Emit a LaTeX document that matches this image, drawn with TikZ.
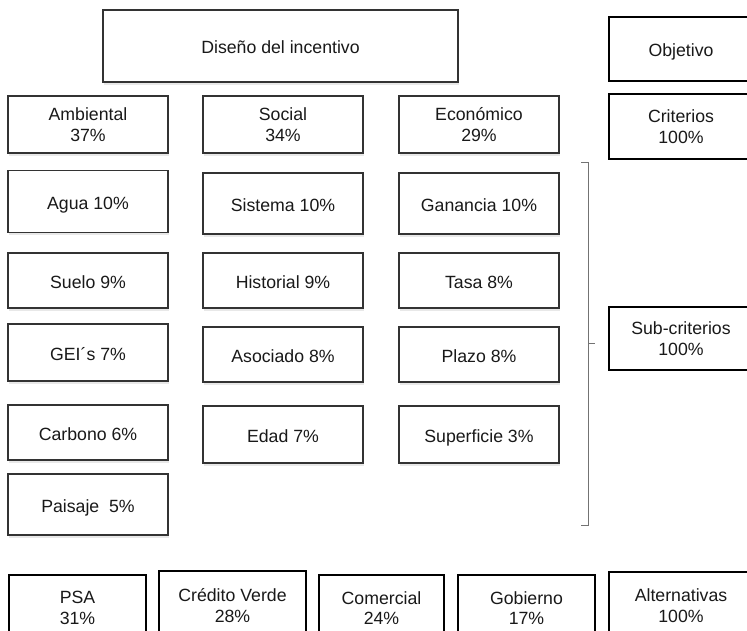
\documentclass[tikz,border=0pt]{standalone}
\usepackage{fontspec}
\setmainfont{Liberation Sans}
\usetikzlibrary{shadows}

\begin{document}
\begin{tikzpicture}[x=1pt, y=-1pt,
	every node/.style={font=\fontsize{17.7}{20.5}\selectfont, text=black!90, align=center, inner sep=0pt},
	cell/.style={draw=black!80, line width=1.1pt, fill=white, minimum width=160pt,
		drop shadow={shadow xshift=1pt, shadow yshift=-3pt, opacity=0.18}},
	oneline/.style={text height=16pt, text depth=0pt},
	level/.style={draw=black, line width=2.2pt, fill=white, minimum width=144pt},
	alt/.style={draw=black, line width=2.2pt, fill=white, minimum height=66pt}]
	\useasboundingbox (0,0) rectangle (747,631);
	\clip (0,0) rectangle (747,631);
	% objetivo
	\node[cell, oneline, minimum width=355pt, minimum height=72pt] (diseno) at (280.5,46) {Diseño del incentivo};
	% criterios
	\node[cell, minimum height=57pt] (ambiental) at (88,124.5) {Ambiental\\37\%};
	\node[cell, minimum height=57pt] (social) at (283,124.5) {Social\\34\%};
	\node[cell, minimum height=57pt] (economico) at (479,124.5) {Económico\\29\%};
	% sub-criterios ambientales
	\node[cell, oneline, minimum height=62pt] (agua) at (88,201.5) {Agua 10\%};
	\node[cell, oneline, minimum height=55pt] (suelo) at (88,280.5) {Suelo 9\%};
	\node[cell, oneline, minimum height=57pt] (gei) at (88,352.5) {GEI´s 7\%};
	\node[cell, oneline, minimum height=55pt] (carbono) at (88,432.5) {Carbono 6\%};
	\node[cell, oneline, minimum height=61pt] (paisaje) at (88,504.5) {Paisaje\ \ 5\%};
	% sub-criterios sociales
	\node[cell, oneline, minimum height=61pt] (sistema) at (283,203.5) {Sistema 10\%};
	\node[cell, oneline, minimum height=55pt] (historial) at (283,280.5) {Historial 9\%};
	\node[cell, oneline, minimum height=55pt] (asociado) at (283,354.5) {Asociado 8\%};
	\node[cell, oneline, minimum height=57pt] (edad) at (283,434.5) {Edad 7\%};
	% sub-criterios economicos
	\node[cell, oneline, minimum height=61pt] (ganancia) at (479,203.5) {Ganancia 10\%};
	\node[cell, oneline, minimum height=55pt] (tasa) at (479,280.5) {Tasa 8\%};
	\node[cell, oneline, minimum height=55pt] (plazo) at (479,354.5) {Plazo 8\%};
	\node[cell, oneline, minimum height=57pt] (superficie) at (479,434.5) {Superficie 3\%};
	% llave
	\draw[black!55, line width=1pt] (581,163) -- (588,163) -- (588,525) -- (581,525);
	\draw[black!55, line width=1pt] (588,343) -- (595,343);
	% niveles
	\node[level, oneline, minimum height=64pt] (objetivo) at (681,49) {Objetivo};
	\node[level, minimum height=65pt] (criterios) at (681,126.5) {Criterios\\100\%};
	\node[level, minimum height=63pt] (subcriterios) at (681,338.5) {Sub-criterios\\100\%};
	% alternativas
	\node[alt, minimum width=137pt] (psa) at (77.5,608) {PSA\\31\%};
	\node[alt, minimum width=147pt, minimum height=69pt] (credito) at (232.5,605.5) {Crédito Verde\\28\%};
	\node[alt, minimum width=125pt] (comercial) at (381.5,608) {Comercial\\24\%};
	\node[alt, minimum width=137pt] (gobierno) at (526.5,608) {Gobierno\\17\%};
	\node[level, minimum height=67pt] (alternativas) at (681,605.5) {Alternativas\\100\%};
\end{tikzpicture}
\end{document}
